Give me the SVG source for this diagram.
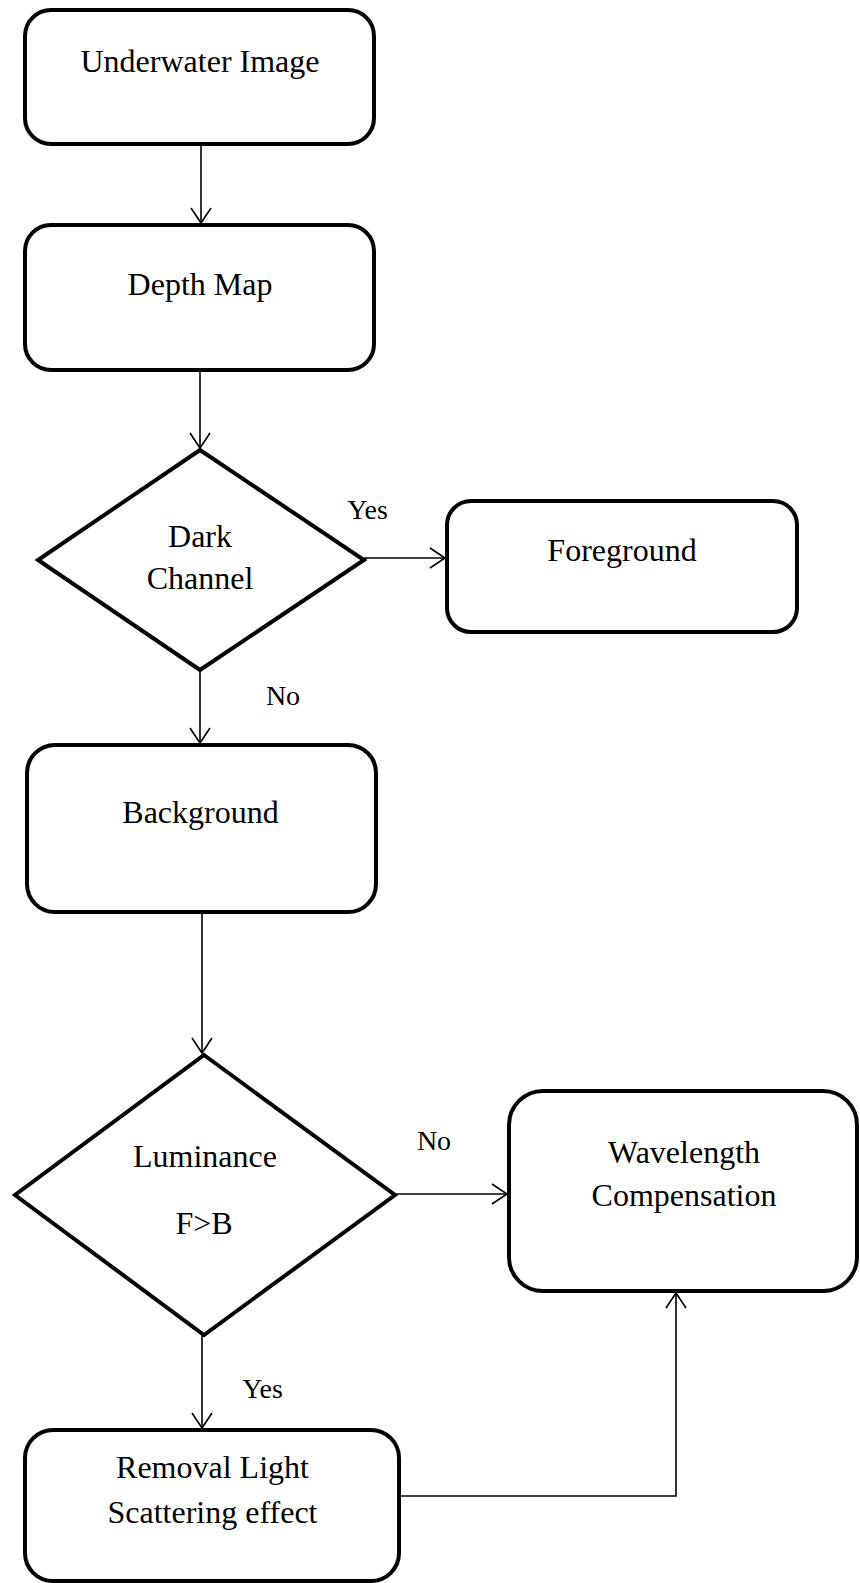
<svg xmlns="http://www.w3.org/2000/svg" width="860" height="1583" viewBox="0 0 860 1583">
  <style>
    .box { fill: #fff; stroke: #000; stroke-width: 4; }
    .lbl { font-family: "Liberation Serif", "Times New Roman", serif; font-size: 32px; fill: #000; text-anchor: middle; }
    .edge-lbl { font-family: "Liberation Serif", "Times New Roman", serif; font-size: 28px; fill: #000; text-anchor: middle; }
    .conn { fill: none; stroke: #000; stroke-width: 1.6; }
  </style>
  <defs>
    <marker id="open-arrow" markerUnits="userSpaceOnUse" viewBox="-17 -12 20 24" markerWidth="20" markerHeight="24" refX="0" refY="0" orient="auto">
      <path d="M-15,-10 L0,0 L-15,10" fill="none" stroke="#000" stroke-width="1.6"/>
    </marker>
  </defs>

  <rect width="860" height="1583" fill="#fff"/>

  <g id="connectors">
    <line class="conn" x1="201" y1="144" x2="201" y2="223" marker-end="url(#open-arrow)"/>
    <line class="conn" x1="200" y1="370" x2="200" y2="448" marker-end="url(#open-arrow)"/>
    <line class="conn" x1="364" y1="558" x2="445" y2="558" marker-end="url(#open-arrow)"/>
    <line class="conn" x1="200" y1="670" x2="200" y2="743" marker-end="url(#open-arrow)"/>
    <line class="conn" x1="202" y1="912" x2="202" y2="1053" marker-end="url(#open-arrow)"/>
    <line class="conn" x1="395" y1="1194" x2="507" y2="1194" marker-end="url(#open-arrow)"/>
    <line class="conn" x1="202" y1="1335" x2="202" y2="1428" marker-end="url(#open-arrow)"/>
    <polyline class="conn" points="399,1496 676,1496 676,1293" marker-end="url(#open-arrow)"/>
    <text class="edge-lbl" x="367.5" y="519">Yes</text>
    <text class="edge-lbl" x="283" y="705">No</text>
    <text class="edge-lbl" x="434" y="1150">No</text>
    <text class="edge-lbl" x="262.5" y="1398">Yes</text>
  </g>

  <g id="underwater-image">
    <rect class="box" x="25" y="10" width="349" height="134" rx="26"/>
    <text class="lbl" x="200" y="72">Underwater Image</text>
  </g>

  <g id="depth-map">
    <rect class="box" x="25" y="225" width="349" height="145" rx="26"/>
    <text class="lbl" x="200" y="295">Depth Map</text>
  </g>

  <g id="dark-channel">
    <polygon class="box" points="200,450 364,560 200,670 38,560"/>
    <text class="lbl" x="200" y="547">Dark</text>
    <text class="lbl" x="200" y="589">Channel</text>
  </g>

  <g id="foreground">
    <rect class="box" x="447" y="501" width="350" height="131" rx="24"/>
    <text class="lbl" x="622" y="561">Foreground</text>
  </g>

  <g id="background">
    <rect class="box" x="27" y="745" width="349" height="167" rx="28"/>
    <text class="lbl" x="200.5" y="823">Background</text>
  </g>

  <g id="luminance">
    <polygon class="box" points="204,1055 395,1195 204,1335 15,1195"/>
    <text class="lbl" x="205" y="1167">Luminance</text>
    <text class="lbl" x="204" y="1234">F&gt;B</text>
  </g>

  <g id="wavelength-compensation">
    <rect class="box" x="509" y="1091" width="348" height="200" rx="34"/>
    <text class="lbl" x="684" y="1163">Wavelength</text>
    <text class="lbl" x="684" y="1206">Compensation</text>
  </g>

  <g id="removal-light-scattering">
    <rect class="box" x="25" y="1430" width="374" height="151" rx="28"/>
    <text class="lbl" x="212.5" y="1478">Removal Light</text>
    <text class="lbl" x="212.5" y="1523">Scattering effect</text>
  </g>
</svg>
